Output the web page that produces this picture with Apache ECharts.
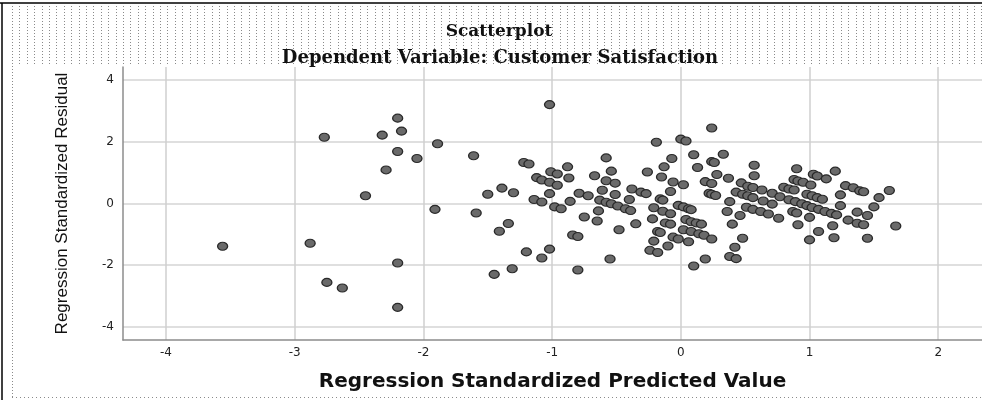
<!DOCTYPE html>
<html>
<head>
<meta charset="utf-8">
<script src="https://cdn.jsdelivr.net/npm/echarts@6/dist/echarts.min.js"></script>
<style>
html,body{margin:0;padding:0;background:#fff;}
#chart{width:982px;height:400px;}
</style>
</head>
<body>
<div id="chart"></div>
<script>
var chartTitle = 'Scatterplot';
var chartSubtitle = 'Dependent Variable: Customer Satisfaction';
var xAxisTitle = 'Regression Standardized Predicted Value';
var yAxisTitle = 'Regression Standardized Residual';

// Regression Standardized Predicted Value
var predicted = [
  -2.20,-2.17,-2.32,-2.77,-1.89,-1.61,-2.20,-2.05,-2.29,-2.45,-1.91,-1.59,-3.56,-2.88,-2.20,-2.75,-2.63,-2.20,
  -1.02,-1.22,-1.18,-0.88,-1.01,-0.96,-1.12,-1.08,-1.02,-0.96,-0.87,-0.58,-0.54,-0.67,-0.58,-0.51,-0.61,-0.51,
  -1.39,-1.30,-1.50,-1.02,-0.79,-0.72,-1.14,-1.08,-0.86,-0.63,-0.58,-0.54,-0.49,-0.98,-0.93,-0.64,-0.75,-0.65,
  -1.34,-1.41,-0.48,-0.84,-0.80,-1.20,-1.02,-1.08,-0.55,-1.31,-1.45,-0.80,
  0.24,-0.19,0.00,0.04,0.10,0.33,-0.07,0.24,0.26,-0.13,0.13,-0.26,0.28,0.57,0.57,-0.15,0.37,-0.06,0.02,0.19,
  0.24,0.47,0.52,0.56,-0.38,-0.31,-0.27,-0.08,0.22,0.24,0.27,0.43,0.48,0.52,0.56,-0.40,-0.43,-0.39,-0.16,-0.14,
  -0.02,0.02,0.06,0.08,-0.21,-0.14,-0.08,0.38,0.36,0.46,-0.35,-0.22,-0.12,-0.08,0.04,0.08,0.12,0.16,0.40,-0.18,
  -0.16,0.02,0.08,0.14,0.18,-0.06,-0.02,0.06,0.24,0.48,-0.21,-0.10,-0.24,-0.18,0.42,0.38,0.43,0.19,0.10,0.51,0.56,
  0.90,1.03,1.06,1.20,1.13,0.88,0.91,0.95,1.01,1.28,1.34,1.39,1.42,1.62,1.54,1.24,0.80,0.84,0.88,0.98,1.02,1.06,
  1.10,0.63,0.71,0.77,0.84,0.89,0.94,0.98,1.02,1.07,1.12,1.17,1.21,1.24,1.50,1.37,1.45,1.30,1.37,1.42,1.67,0.64,
  0.71,0.62,0.68,0.76,0.87,0.90,1.00,0.91,1.18,1.07,1.19,1.00,1.45
];
// Regression Standardized Residual
var residual = [
  2.77,2.35,2.22,2.15,1.94,1.55,1.69,1.46,1.09,0.25,-0.19,-0.31,-1.39,-1.29,-1.93,-2.56,-2.74,-3.37,
  3.21,1.33,1.28,1.19,1.03,0.96,0.84,0.76,0.69,0.59,0.83,1.48,1.05,0.90,0.74,0.66,0.43,0.29,
  0.50,0.35,0.30,0.32,0.33,0.25,0.13,0.05,0.07,0.11,0.04,-0.01,-0.08,-0.11,-0.17,-0.24,-0.44,-0.57,
  -0.65,-0.90,-0.85,-1.02,-1.07,-1.57,-1.48,-1.77,-1.80,-2.12,-2.30,-2.16,
  2.45,1.99,2.09,2.03,1.58,1.60,1.46,1.36,1.33,1.19,1.17,1.02,0.94,1.24,0.90,0.86,0.82,0.70,0.61,0.71,
  0.65,0.67,0.56,0.52,0.47,0.37,0.32,0.39,0.33,0.30,0.26,0.37,0.30,0.25,0.19,0.13,-0.17,-0.23,0.15,0.11,
  -0.06,-0.11,-0.17,-0.20,-0.14,-0.25,-0.33,0.06,-0.26,-0.39,-0.66,-0.50,-0.63,-0.67,-0.52,-0.59,-0.63,-0.67,-0.67,-0.91,
  -0.94,-0.85,-0.91,-0.98,-1.03,-1.09,-1.15,-1.24,-1.15,-1.13,-1.22,-1.38,-1.52,-1.59,-1.42,-1.72,-1.79,-1.80,-2.03,-0.12,-0.19,
  1.13,0.95,0.89,1.05,0.80,0.78,0.73,0.69,0.60,0.58,0.51,0.41,0.38,0.42,0.19,0.28,0.53,0.47,0.44,0.30,0.25,0.19,
  0.14,0.44,0.33,0.22,0.12,0.06,-0.01,-0.07,-0.13,-0.19,-0.26,-0.32,-0.37,-0.07,-0.11,-0.28,-0.39,-0.54,-0.64,-0.69,-0.73,0.08,
  -0.02,-0.26,-0.34,-0.48,-0.26,-0.31,-0.45,-0.69,-0.72,-0.91,-1.11,-1.18,-1.13
];

var points = predicted.map(function (v, i) { return [v, residual[i]]; });

// decorative frame (dotted header like the source output viewer)
var deco = [];
deco.push({type:'line', silent:true, shape:{x1:0,y1:3,x2:982,y2:3}, style:{stroke:'#000',lineWidth:1.5}});
deco.push({type:'line', silent:true, shape:{x1:2,y1:3,x2:2,y2:400}, style:{stroke:'#000',lineWidth:1.5}});
for (var gx = 12; gx < 982; gx += 7.4) {
  deco.push({type:'line', silent:true, z:-10, shape:{x1:Math.round(gx)+0.5,y1:6,x2:Math.round(gx)+0.5,y2:66},
    style:{stroke:'#8a8a8a',lineWidth:1,lineDash:[1,2]}});
}
deco.push({type:'line', silent:true, z:-10, shape:{x1:12.5,y1:66,x2:12.5,y2:398}, style:{stroke:'#8a8a8a',lineWidth:1,lineDash:[1,2]}});
deco.push({type:'line', silent:true, z:-10, shape:{x1:12,y1:397.5,x2:982,y2:397.5}, style:{stroke:'#8a8a8a',lineWidth:1,lineDash:[1,3]}});

var chart = echarts.init(document.getElementById('chart'), null, {renderer:'canvas'});
chart.setOption({
  animation: false,
  backgroundColor: '#fff',
  graphic: deco,
  title: [
    {text: chartTitle, left: 499, top: 23, textAlign: 'center', padding: 0,
     textStyle:{fontFamily:'DejaVu Serif', fontWeight:'bold', fontSize:17, color:'#111'}},
    {text: chartSubtitle, left: 500, top: 49, textAlign: 'center', padding: 0,
     textStyle:{fontFamily:'DejaVu Serif', fontWeight:'bold', fontSize:18, color:'#111'}}
  ],
  grid: {left: 123, right: 0, top: 67, bottom: 60, containLabel: false},
  xAxis: {
    type: 'value', min: -4.334, max: 2.34,
    splitNumber: 7,
    name: xAxisTitle, nameLocation: 'middle', nameGap: 32,
    nameTextStyle: {fontFamily:'DejaVu Sans', fontWeight:'bold', fontSize:20, color:'#111'},
    axisLine: {show:true, onZero:false, lineStyle:{color:'#8c8c8c', width:1.5}},
    axisTick: {show:false},
    axisLabel: {showMinLabel:false, showMaxLabel:false, margin:7,
      fontFamily:'DejaVu Sans', fontSize:12, color:'#222'},
    splitLine: {show:true, showMinLine:false, showMaxLine:false, lineStyle:{color:'#cfcfcf', width:1.5}}
  },
  yAxis: {
    type: 'value', min: -4.43, max: 4.43,
    splitNumber: 4,
    name: yAxisTitle, nameLocation: 'middle', nameGap: 52, nameRotate: 90,
    nameTextStyle: {fontFamily:'Liberation Sans', fontSize:17, color:'#111'},
    axisLine: {show:true, onZero:false, lineStyle:{color:'#8c8c8c', width:1.5}},
    axisTick: {show:false},
    axisLabel: {showMinLabel:false, showMaxLabel:false, margin:9,
      fontFamily:'DejaVu Sans', fontSize:12, color:'#222'},
    splitLine: {show:true, showMinLine:false, showMaxLine:false, lineStyle:{color:'#d4d4d4', width:1.5}}
  },
  series: [{
    type: 'scatter',
    data: points,
    symbol: 'circle',
    symbolSize: [10, 8],
    itemStyle: {color:'#6a6a6a', borderColor:'#2a2a2a', borderWidth:1.2, opacity:1}
  }]
});
</script>
</body>
</html>
